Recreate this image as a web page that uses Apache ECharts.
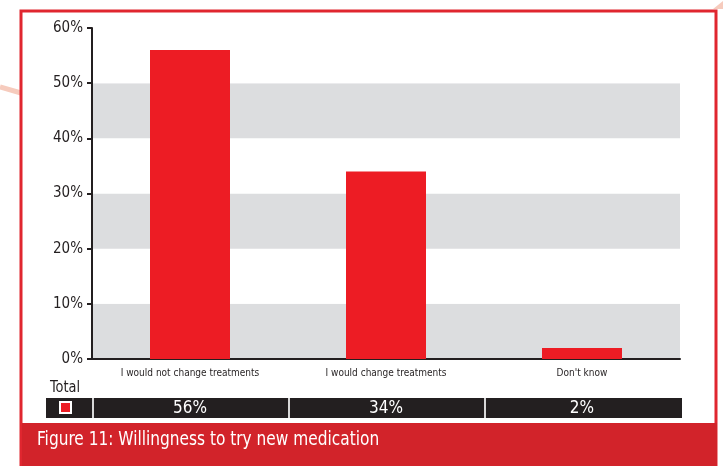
<!DOCTYPE html>
<html>
<head>
<meta charset="utf-8">
<script src="https://cdn.jsdelivr.net/npm/echarts@6/dist/echarts.min.js"></script>
<style>html,body{margin:0;padding:0;background:#fff}#c{width:723px;height:466px}</style>
</head>
<body>
<div id="c"></div>
<script>
const categories = ["I would not change treatments", "I would change treatments", "Don't know"];
const values = [56, 34, 2];
const yTicks = [0, 10, 20, 30, 40, 50, 60];
const legendName = "Total";
const title = "Figure 11: Willingness to try new medication";

const chart = echarts.init(document.getElementById('c'), null, {renderer: 'canvas'});
const gridLeft = 92, gridRight = 680, gridTop = 28, gridBottom = 359;
const NARROW = "'DejaVu Sans Condensed', 'Liberation Sans Narrow', sans-serif";
const catW = (gridRight - gridLeft) / categories.length;

const graphics = [
  {type: 'line', shape: {x1: 0, y1: 87, x2: 21, y2: 93}, style: {stroke: '#f6cbbd', lineWidth: 5}, z: 1},
  {type: 'polygon', shape: {points: [[713, 9], [723, 1], [723, 9]]}, style: {fill: '#f6cbbd'}, z: 1},
  {type: 'polyline', shape: {points: [[21, 466], [21, 11], [716, 11], [716, 466]]}, style: {stroke: '#e0262f', lineWidth: 3, fill: null}, z: 2},
  {type: 'rect', shape: {x: 22, y: 423, width: 695, height: 43}, style: {fill: '#d2232a'}, z: 3},
  {type: 'text', x: 37, y: 440, scaleX: 0.9, style: {text: title, fill: '#ffffff', font: '19px ' + NARROW, textVerticalAlign: 'middle'}, z: 4},
  {type: 'text', x: 50, y: 388, scaleX: 0.9, style: {text: legendName, fill: '#231f20', font: '16px ' + NARROW, textVerticalAlign: 'middle'}, z: 4},
  {type: 'rect', shape: {x: 46, y: 398, width: 636, height: 20}, style: {fill: '#231f20'}, z: 3},
  {type: 'rect', shape: {x: 60, y: 402, width: 11, height: 11}, style: {fill: '#ed1c24', stroke: '#ffffff', lineWidth: 2}, z: 4}
];
for (let i = 0; i < categories.length; i++) {
  const x0 = gridLeft + i * catW;
  graphics.push({type: 'line', shape: {x1: x0 + 1, y1: 398, x2: x0 + 1, y2: 418}, style: {stroke: '#d8d8d8', lineWidth: 2}, z: 4});
  graphics.push({type: 'text', x: x0 + catW / 2, y: 409, style: {text: values[i] + '%', fill: '#ffffff', font: '17px ' + NARROW, textAlign: 'center', textVerticalAlign: 'middle'}, z: 4});
}

chart.setOption({
  animation: false,
  backgroundColor: '#ffffff',
  grid: {left: gridLeft, right: 723 - gridRight, top: gridTop, bottom: 466 - gridBottom, containLabel: false},
  xAxis: {
    type: 'category',
    data: categories,
    axisLine: {lineStyle: {color: '#231f20', width: 2}},
    axisTick: {show: false},
    axisLabel: {interval: 0, color: '#231f20', fontSize: 10, fontFamily: NARROW, margin: 9},
    splitLine: {show: false}
  },
  yAxis: {
    type: 'value',
    min: yTicks[0], max: yTicks[yTicks.length - 1], interval: 10,
    axisLine: {show: true, lineStyle: {color: '#231f20', width: 2}},
    axisTick: {show: true, length: 5, lineStyle: {color: '#231f20', width: 2}},
    axisLabel: {color: '#231f20', fontSize: 15, fontFamily: NARROW, formatter: '{value}%', margin: 9},
    splitLine: {show: false},
    splitArea: {show: true, areaStyle: {color: ['#dcdddf', '#ffffff']}}
  },
  series: [{
    type: 'bar',
    name: legendName,
    data: values,
    barWidth: 80,
    itemStyle: {color: '#ed1c24'}
  }],
  graphic: graphics
});
</script>
</body>
</html>
